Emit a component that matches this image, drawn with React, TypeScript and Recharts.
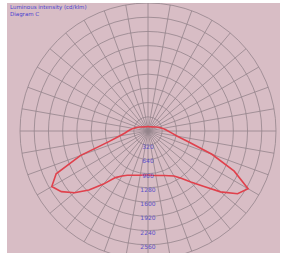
import { RadarChart, Radar, PolarGrid, PolarAngleAxis, PolarRadiusAxis } from "recharts";

// angle from nadir (0 = straight down), going round through the left side, up, then the right side
const angles = [
  0, 5, 10, 15, 20, 25, 30, 35, 40, 45, 50, 55, 60, 65, 70, 75, 80, 85,
  90, 95, 100, 105, 110, 115, 120, 125, 130, 135, 140, 145, 150, 155, 160, 165, 170, 175,
  180, 185, 190, 195, 200, 205, 210, 215, 220, 225, 230, 235, 240, 245, 250, 255, 260, 265,
  270, 275, 280, 285, 290, 295, 300, 305, 310, 315, 320, 325, 330, 335, 340, 345, 350, 355,
];

// cd/klm
const intensity = [
  990, 995, 1010, 1030, 1060, 1100, 1170, 1280, 1560, 1880, 2160, 2380, 2500, 2280, 1620, 900, 650, 520,
  450, 390, 340, 290, 250, 210, 180, 160, 140, 130, 120, 115, 110, 105, 100, 100, 100, 100,
  100, 100, 100, 100, 100, 105, 110, 115, 120, 130, 140, 160, 180, 210, 250, 290, 340, 390,
  450, 540, 670, 950, 1530, 2140, 2600, 2460, 2130, 1760, 1500, 1300, 1170, 1110, 1065, 1035, 1015, 1000,
];

// rings every 320; the last ring falls outside the frame and carries no label
const radiusTicks = [320, 640, 960, 1280, 1600, 1920, 2240, 2560, 2880];
const labelledTicks = [320, 640, 960, 1280, 1600, 1920, 2240, 2560];
const gridAngles = [
  0, 10, 20, 30, 40, 50, 60, 70, 80, 90, 100, 110, 120, 130, 140, 150, 160, 170,
  180, 190, 200, 210, 220, 230, 240, 250, 260, 270, 280, 290, 300, 310, 320, 330, 340, 350,
];

const data = angles.map((a, i) => ({ angle: a, value: intensity[i] }));

const RadiusTick = (props: any) => {
  const { x, y, payload } = props;
  if (!labelledTicks.includes(payload.value)) return null;
  return (
    <text x={x} y={y + 4} textAnchor="middle" fontSize={6} fill="#5a4fc8" fontFamily="DejaVu Sans">
      {payload.value}
    </text>
  );
};

export default function App() {
  return (
    <div
      style={{
        position: "absolute",
        left: 7,
        top: 3,
        width: 273,
        height: 250,
        background: "#d8bdc5",
        overflow: "hidden",
      }}
    >
      <RadarChart
        width={273}
        height={250}
        data={data}
        cx={141}
        cy={128}
        outerRadius={128}
        startAngle={270}
        endAngle={-90}
        margin={{ top: 0, right: 0, bottom: 0, left: 0 }}
      >
        <PolarGrid gridType="circle" polarAngles={gridAngles} stroke="#94848c" strokeWidth={0.8} />
        <PolarAngleAxis dataKey="angle" tick={false} axisLine={false} tickLine={false} />
        <PolarRadiusAxis
          angle={-90}
          domain={[0, 2880]}
          ticks={radiusTicks}
          tick={<RadiusTick />}
          axisLine={false}
          tickLine={false}
        />
        <Radar
          dataKey="value"
          stroke="#e0414c"
          strokeWidth={1.6}
          fill="none"
          fillOpacity={0}
          dot={false}
          isAnimationActive={false}
        />
      </RadarChart>
      <div
        style={{
          position: "absolute",
          left: 3,
          top: 1,
          fontFamily: "DejaVu Sans",
          fontSize: 5.5,
          lineHeight: "7px",
          color: "#4a40d0",
        }}
      >
        <div>Luminous intensity (cd/klm)</div>
        <div>Diagram C</div>
      </div>
    </div>
  );
}
